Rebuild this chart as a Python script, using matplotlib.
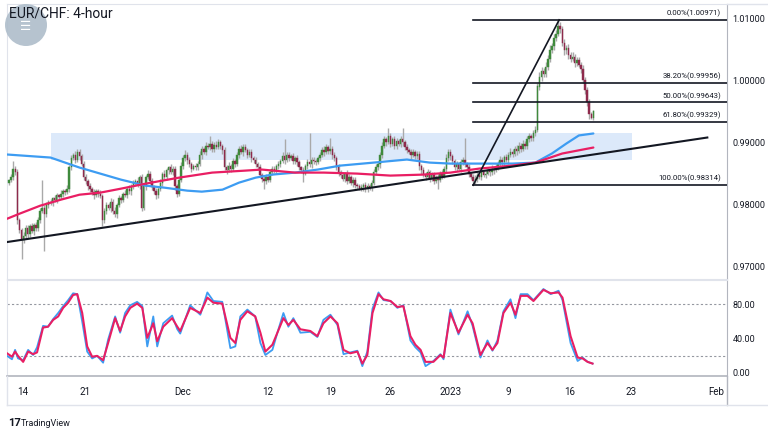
import matplotlib
matplotlib.use("Agg")
import matplotlib.pyplot as plt
import numpy as np
from matplotlib.patches import Rectangle, Ellipse
from matplotlib.lines import Line2D

plt.rcParams["font.family"] = ["Roboto", "DejaVu Sans"]

TITLE = "EUR/CHF: 4-hour"

# 4-hour closes (one row ~ 10 bars)
first_open = 0.9835
closes = [
    0.9839, 0.9845, 0.9858, 0.9852, 0.9775, 0.9760, 0.9743, 0.9750, 0.9763, 0.9753,
    0.9765, 0.9758, 0.9768, 0.9762, 0.9775, 0.9790, 0.9795, 0.9785, 0.9800, 0.9805,
    0.9803, 0.9810, 0.9808, 0.9815, 0.9812, 0.9818, 0.9822, 0.9820, 0.9826, 0.9860,
    0.9875, 0.9880, 0.9872, 0.9885, 0.9878, 0.9865, 0.9845, 0.9838, 0.9830, 0.9825,
    0.9820, 0.9815, 0.9822, 0.9818, 0.9814, 0.9775, 0.9790, 0.9800, 0.9795, 0.9805,
    0.9790, 0.9785, 0.9800, 0.9810, 0.9808, 0.9818, 0.9815, 0.9825, 0.9822, 0.9830,
    0.9835, 0.9838, 0.9832, 0.9845, 0.9795, 0.9830, 0.9845, 0.9850, 0.9838, 0.9828,
    0.9822, 0.9815, 0.9825, 0.9835, 0.9850, 0.9845, 0.9855, 0.9860, 0.9852, 0.9858,
    0.9830, 0.9818, 0.9840, 0.9862, 0.9875, 0.9880, 0.9872, 0.9865, 0.9858, 0.9862,
    0.9860, 0.9866, 0.9880, 0.9890, 0.9885, 0.9895, 0.9892, 0.9898, 0.9890, 0.9896,
    0.9893, 0.9900, 0.9895, 0.9888, 0.9860, 0.9855, 0.9862, 0.9858, 0.9870, 0.9865,
    0.9880, 0.9890, 0.9885, 0.9893, 0.9888, 0.9880, 0.9885, 0.9875, 0.9872, 0.9865,
    0.9860, 0.9848, 0.9842, 0.9838, 0.9845, 0.9840, 0.9852, 0.9858, 0.9855, 0.9862,
    0.9866, 0.9870, 0.9878, 0.9872, 0.9880, 0.9875, 0.9878, 0.9870, 0.9875, 0.9868,
    0.9860, 0.9855, 0.9850, 0.9862, 0.9868, 0.9865, 0.9872, 0.9870, 0.9868, 0.9875,
    0.9880, 0.9888, 0.9885, 0.9892, 0.9886, 0.9890, 0.9880, 0.9875, 0.9860, 0.9852,
    0.9848, 0.9842, 0.9850, 0.9838, 0.9845, 0.9835, 0.9840, 0.9832, 0.9830, 0.9826,
    0.9828, 0.9832, 0.9825, 0.9830, 0.9828, 0.9835, 0.9852, 0.9860, 0.9865, 0.9880,
    0.9895, 0.9905, 0.9900, 0.9910, 0.9898, 0.9905, 0.9895, 0.9902, 0.9898, 0.9905,
    0.9900, 0.9892, 0.9888, 0.9885, 0.9880, 0.9885, 0.9878, 0.9882, 0.9862, 0.9855,
    0.9848, 0.9845, 0.9852, 0.9842, 0.9848, 0.9838, 0.9845, 0.9840, 0.9850, 0.9846,
    0.9858, 0.9875, 0.9885, 0.9878, 0.9870, 0.9860, 0.9865, 0.9858, 0.9868, 0.9872,
    0.9865, 0.9860, 0.9850, 0.9845, 0.9838, 0.9842, 0.9848, 0.9845, 0.9852, 0.9848,
    0.9850, 0.9855, 0.9852, 0.9858, 0.9855, 0.9860, 0.9866, 0.9872, 0.9868, 0.9876,
    0.9872, 0.9880, 0.9885, 0.9882, 0.9890, 0.9886, 0.9895, 0.9890, 0.9898, 0.9895,
    0.9905, 0.9910, 0.9908, 0.9915, 0.9920, 0.9990, 1.0005, 1.0015, 1.0010, 1.0022,
    1.0035, 1.0048, 1.0055, 1.0068, 1.0075, 1.0088, 1.0082, 1.0060, 1.0048, 1.0052,
    1.0040, 1.0035, 1.0038, 1.0028, 1.0032, 1.0025, 1.0018, 1.0000, 0.9985, 0.9965,
    0.9945, 0.9940, 0.9950,
]
# wick lengths beyond the body, in pips
up_wick = [
    3, 4, 13, 4, 5, 4, 3, 6, 5, 4,
    4, 5, 3, 4, 6, 5, 44, 4, 5, 3,
    4, 3, 5, 4, 3, 5, 4, 3, 6, 4,
    5, 3, 6, 5, 4, 3, 5, 4, 3, 5,
    4, 5, 3, 4, 6, 3, 5, 4, 3, 5,
    4, 6, 3, 5, 4, 3, 5, 4, 6, 3,
    5, 4, 6, 3, 4, 5, 3, 6, 4, 5,
    3, 5, 4, 6, 3, 5, 4, 3, 5, 4,
    5, 3, 4, 6, 5, 8, 4, 5, 3, 4,
    5, 4, 6, 5, 3, 6, 4, 13, 5, 4,
    6, 5, 4, 3, 5, 4, 6, 3, 5, 4,
    5, 4, 6, 5, 4, 3, 5, 4, 3, 5,
    4, 5, 3, 4, 5, 3, 6, 4, 5, 4,
    5, 4, 6, 28, 5, 4, 3, 5, 4, 5,
    4, 3, 5, 4, 6, 48, 4, 5, 3, 4,
    5, 4, 6, 5, 4, 18, 5, 4, 3, 5,
    4, 5, 3, 6, 4, 3, 5, 4, 3, 4,
    5, 3, 4, 5, 3, 4, 5, 6, 4, 5,
    6, 5, 4, 13, 5, 4, 6, 5, 4, 5,
    18, 4, 5, 3, 4, 5, 3, 4, 5, 4,
    5, 4, 6, 3, 5, 4, 3, 5, 4, 6,
    5, 6, 4, 5, 3, 4, 5, 4, 6, 5,
    36, 4, 5, 3, 4, 5, 4, 3, 5, 4,
    5, 4, 3, 6, 4, 5, 4, 6, 5, 4,
    5, 4, 6, 5, 4, 6, 5, 4, 6, 5,
    6, 5, 4, 5, 6, 5, 8, 6, 5, 7,
    6, 8, 5, 7, 6, 9, 5, 6, 7, 5,
    6, 5, 7, 5, 6, 5, 4, 6, 5, 4,
    5, 4, 3,
]
dn_wick = [
    4, 3, 5, 4, 6, 5, 30, 4, 5, 6,
    5, 4, 6, 5, 4, 5, 3, 59, 4, 5,
    4, 5, 3, 6, 4, 3, 5, 4, 3, 5,
    4, 3, 5, 4, 6, 3, 5, 4, 6, 5,
    4, 6, 3, 5, 4, 10, 4, 5, 3, 6,
    5, 4, 6, 3, 5, 4, 3, 5, 4, 6,
    4, 5, 3, 6, 5, 4, 6, 3, 5, 4,
    5, 6, 4, 3, 5, 4, 6, 5, 3, 4,
    6, 5, 4, 3, 5, 4, 6, 4, 5, 3,
    4, 5, 3, 6, 4, 5, 3, 4, 6, 5,
    4, 3, 5, 6, 4, 5, 3, 6, 4, 5,
    3, 5, 4, 6, 3, 5, 4, 6, 5, 4,
    5, 4, 6, 12, 5, 4, 3, 5, 4, 6,
    4, 5, 3, 6, 4, 5, 3, 5, 4, 6,
    5, 4, 14, 3, 5, 4, 6, 5, 4, 3,
    5, 4, 6, 3, 5, 4, 6, 5, 4, 6,
    5, 4, 6, 5, 3, 4, 6, 5, 4, 3,
    4, 6, 5, 5, 4, 6, 3, 5, 4, 6,
    5, 4, 6, 3, 5, 4, 6, 5, 4, 5,
    6, 4, 5, 3, 6, 4, 5, 4, 6, 5,
    4, 5, 3, 6, 4, 5, 3, 14, 4, 5,
    3, 5, 4, 6, 5, 4, 6, 3, 5, 4,
    5, 4, 6, 3, 7, 4, 5, 3, 6, 4,
    5, 3, 6, 4, 5, 3, 5, 4, 6, 5,
    4, 6, 3, 5, 4, 6, 3, 5, 4, 6,
    5, 4, 6, 5, 4, 3, 5, 6, 4, 5,
    6, 5, 4, 6, 5, 4, 6, 5, 7, 5,
    6, 5, 4, 6, 5, 4, 6, 5, 7, 6,
    8, 3, 4,
]

# moving averages (bar index -> value)
blue_ma_bar = [-1, 20, 34, 44, 54, 66, 75, 86, 93, 103, 111, 119, 127, 138, 149,
               160, 176, 192, 203, 213, 227, 243, 254, 262, 269, 275, 282]
blue_ma = [0.98807, 0.98758, 0.98597, 0.98500, 0.98403, 0.98306, 0.98274, 0.98226,
           0.98210, 0.98242, 0.98355, 0.98435, 0.98484, 0.98516, 0.98565, 0.98629,
           0.98677, 0.98726, 0.98677, 0.98661, 0.98661, 0.98661, 0.98677, 0.98823,
           0.98984, 0.99113, 0.99145]
pink_ma_bar = [-1, 5, 15, 25, 34, 44, 54, 66, 82, 98, 114, 122, 138, 152, 168, 184,
               200, 213, 227, 243, 254, 267, 282]
pink_ma = [0.97774, 0.97855, 0.97984, 0.98081, 0.98161, 0.98194, 0.98258, 0.98339,
           0.98435, 0.98516, 0.98548, 0.98565, 0.98516, 0.98516, 0.98500, 0.98468,
           0.98484, 0.98516, 0.98581, 0.98629, 0.98677, 0.98823, 0.98919]

# drawings
trend_bar = [-1, 337]
trend_val = [0.9740, 0.9908]
zone_bar = [20, 300.5]
zone_val = [0.98721, 0.99150]
fib_start, fib_end = 224, 265.5
fib_low, fib_high = 0.98314, 1.00971
fib_vals = [1.00971, 0.99956, 0.99643, 0.99329, 0.98314]
fib_labels = ["0.00%(1.00971)", "38.20%(0.99956)", "50.00%(0.99643)",
              "61.80%(0.99329)", "100.00%(0.98314)"]

# stochastic
stoch_bar = [-1, 1.4, 2.9, 4.3, 6.8, 9.2, 11.6, 13.5, 16.4, 18.8, 21.3, 23.7, 26.1,
             28.5, 30.9, 32.9, 35.3, 37.7, 40.1, 42.5, 45.4, 47.8, 51.2, 53.6, 56.0,
             58.5, 61.8, 64.3, 66.7, 69.6, 71.5, 74.4, 78.7, 81.2, 82.6, 87.4, 92.3,
             95.7, 98.6, 102.9, 106.8, 109.2, 111.6, 115.0, 118.8, 121.3, 123.7,
             127.1, 129.5, 132.4, 134.8, 137.2, 140.6, 145.4, 148.8, 151.7, 155.1,
             158.5, 161.4, 164.7, 168.1, 170.5, 172.9, 175.4, 178.3, 180.7, 184.1,
             187.4, 190.3, 193.7, 196.1, 198.6, 201.0, 204.8, 208.2, 209.7, 213.0,
             216.9, 221.3, 223.7, 227.5, 230.9, 233.3, 235.7, 238.6, 242.0, 244.4,
             246.9, 250.2, 253.1, 257.9, 261.4, 265.2, 267.1, 271.0, 274.4, 276.8,
             279.2, 281.6]
stoch_d = [23, 19, 25, 20, 13, 25, 22, 24, 53, 54, 62, 66, 76, 82, 91, 92, 70, 31, 19,
           20, 15, 35, 64, 49, 66, 76, 81, 76, 41, 58, 37, 54, 64, 54, 49, 76, 70, 88,
           82, 81, 41, 35, 62, 72, 66, 47, 25, 33, 47, 64, 56, 62, 51, 49, 43, 58, 66,
           58, 27, 23, 25, 11, 21, 70, 92, 86, 84, 77, 78, 43, 33, 27, 13, 13, 21, 18,
           70, 47, 68, 58, 21, 35, 27, 35, 70, 82, 68, 90, 90, 84, 97, 93, 94, 88, 43,
           18, 17, 13, 11]
stoch_k = [20, 16, 27, 17, 15, 27, 21, 30, 55, 54, 63, 70, 78, 85, 93, 92, 60, 25, 17,
           20, 12, 39, 66, 47, 70, 79, 83, 78, 31, 66, 31, 58, 67, 51, 46, 79, 68, 94,
           84, 83, 29, 31, 66, 74, 66, 35, 21, 27, 47, 70, 54, 64, 47, 48, 42, 62, 68,
           56, 22, 24, 26, 8, 25, 75, 94, 85, 84, 76, 79, 38, 30, 24, 8, 14, 22, 16,
           74, 45, 72, 55, 18, 38, 26, 38, 72, 86, 64, 92, 92, 85, 98, 92, 96, 85, 35,
           14, 18, 13, 11]

date_ticks = [6.8, 36.7, 83.6, 125, 155, 184, 213, 241, 270.5, 300, 341.5]
date_labels = ["14", "21", "Dec", "12", "19", "26", "2023", "9", "16", "23", "Feb"]
price_ticks = [0.97, 0.98, 0.99, 1.00, 1.01]
stoch_ticks = [0, 40, 80]

UP = "#3f8a3c"
DOWN = "#8e2a4c"
WICK = "#a9a9a9"
BLUE = "#3d9cf2"
PINK = "#e91e63"
TXT = "#131722"
GRID = "#e0e3eb"
AXIS = "#b2b5be"

W, H = 768, 432
fig = plt.figure(figsize=(W / 100, H / 100), dpi=100)
fig.patch.set_facecolor("white")


def fx(px):
    return px / W


def fy(py):
    return 1 - py / H


ax = fig.add_axes([fx(7), fy(279), fx(720), (279 - 4) / H])
ax2 = fig.add_axes([fx(7), fy(376), fx(720), (376 - 280) / H], sharex=ax)

xlim = (-1, 346.5)

# --- price panel
n = len(closes)
x = np.arange(n)
c = np.array(closes)
o = np.array([first_open] + closes[:-1])
hi = np.maximum(o, c) + np.array(up_wick) * 1e-4
lo = np.minimum(o, c) - np.array(dn_wick) * 1e-4
rising = c >= o

ax.add_patch(Rectangle((zone_bar[0], zone_val[0]), zone_bar[1] - zone_bar[0],
                       zone_val[1] - zone_val[0], facecolor="#dce9fa",
                       edgecolor="none", zorder=0))
ax.vlines(x, lo, hi, color=WICK, lw=1.0, zorder=2)
ax.bar(x[rising], (c - o)[rising], bottom=o[rising], width=0.7, color=UP,
       edgecolor=UP, lw=0.3, zorder=3)
ax.bar(x[~rising], (o - c)[~rising], bottom=c[~rising], width=0.7, color=DOWN,
       edgecolor=DOWN, lw=0.3, zorder=3)

ax.plot(blue_ma_bar, blue_ma, color=BLUE, lw=1.6, zorder=4, solid_capstyle="round")
ax.plot(pink_ma_bar, pink_ma, color=PINK, lw=1.6, zorder=4, solid_capstyle="round")
ax.plot(trend_bar, trend_val, color=TXT, lw=1.5, zorder=5)

ax.plot([fib_start, fib_end], [fib_low, fib_high], color=TXT, lw=1.2, zorder=5)
for val, lab in zip(fib_vals, fib_labels):
    ax.plot([fib_start, xlim[1]], [val, val], color=TXT, lw=1.2, zorder=5)
    ax.annotate(lab, (343.5, val), xytext=(0, 2), textcoords="offset points",
                ha="right", va="bottom", fontsize=5.6, color=TXT)

ax.set_xlim(*xlim)
ax.set_ylim(0.96806, 1.01226)
ax.yaxis.tick_right()
ax.set_yticks(price_ticks)
ax.set_yticklabels([f"{v:.5f}" for v in price_ticks])
ax.tick_params(axis="y", length=0, pad=4, labelsize=6.5, labelcolor=TXT)
ax.tick_params(axis="x", length=0, labelbottom=False)
for side in ["top", "left", "bottom"]:
    ax.spines[side].set_color(GRID)
ax.spines["right"].set_color(AXIS)

# --- stochastic panel
ax2.axhline(80, color="#9598a1", lw=0.8, ls=(0, (2, 2)))
ax2.axhline(20, color="#9598a1", lw=0.8, ls=(0, (2, 2)))
ax2.plot(stoch_bar, stoch_k, color=BLUE, lw=1.3, zorder=3)
ax2.plot(stoch_bar, stoch_d, color=PINK, lw=1.5, zorder=4)
ax2.set_ylim(-3.5, 108.5)
ax2.yaxis.tick_right()
ax2.set_yticks(stoch_ticks)
ax2.set_yticklabels([f"{v:.2f}" for v in stoch_ticks])
ax2.tick_params(axis="y", length=0, pad=4, labelsize=6.5, labelcolor=TXT)
ax2.set_xticks(date_ticks)
ax2.set_xticklabels(date_labels)
ax2.tick_params(axis="x", length=0, pad=8, labelsize=7, labelcolor=TXT)
ax2.spines["top"].set_color(GRID)
ax2.spines["left"].set_color(GRID)
ax2.spines["bottom"].set_color(AXIS)
ax2.spines["bottom"].set_linewidth(1.2)
ax2.spines["right"].set_color(AXIS)

# frame around the chart area
fig.add_artist(Line2D([fx(727), fx(727)], [fy(376), fy(405)], color=AXIS, lw=1.0))
fig.add_artist(Line2D([fx(7), fx(768)], [fy(405), fy(405)], color=GRID, lw=1.0))
fig.add_artist(Line2D([fx(7), fx(7)], [fy(376), fy(405)], color=GRID, lw=1.0))
fig.add_artist(Line2D([fx(727), fx(768)], [fy(4), fy(4)], color=GRID, lw=1.0))

# watermark + title
fig.add_artist(Ellipse((fx(26), fy(25)), fx(42), 42 / H, facecolor="#aebdca",
                       edgecolor="none", alpha=0.9, zorder=10))
fig.text(fx(26), fy(27), "\u2630", ha="center", va="center", fontsize=9,
         color="white", family=["DejaVu Sans"], zorder=11)
fig.text(fx(9), fy(14), TITLE, ha="left", va="center", fontsize=10, color=TXT,
         zorder=12)

# footer
fig.text(fx(8), fy(423), "17", ha="left", va="center", fontsize=8,
         fontweight="bold", color=TXT)
fig.text(fx(21), fy(423), "TradingView", ha="left", va="center", fontsize=6.5,
         color=TXT)

fig.savefig("out.png", dpi=100)
